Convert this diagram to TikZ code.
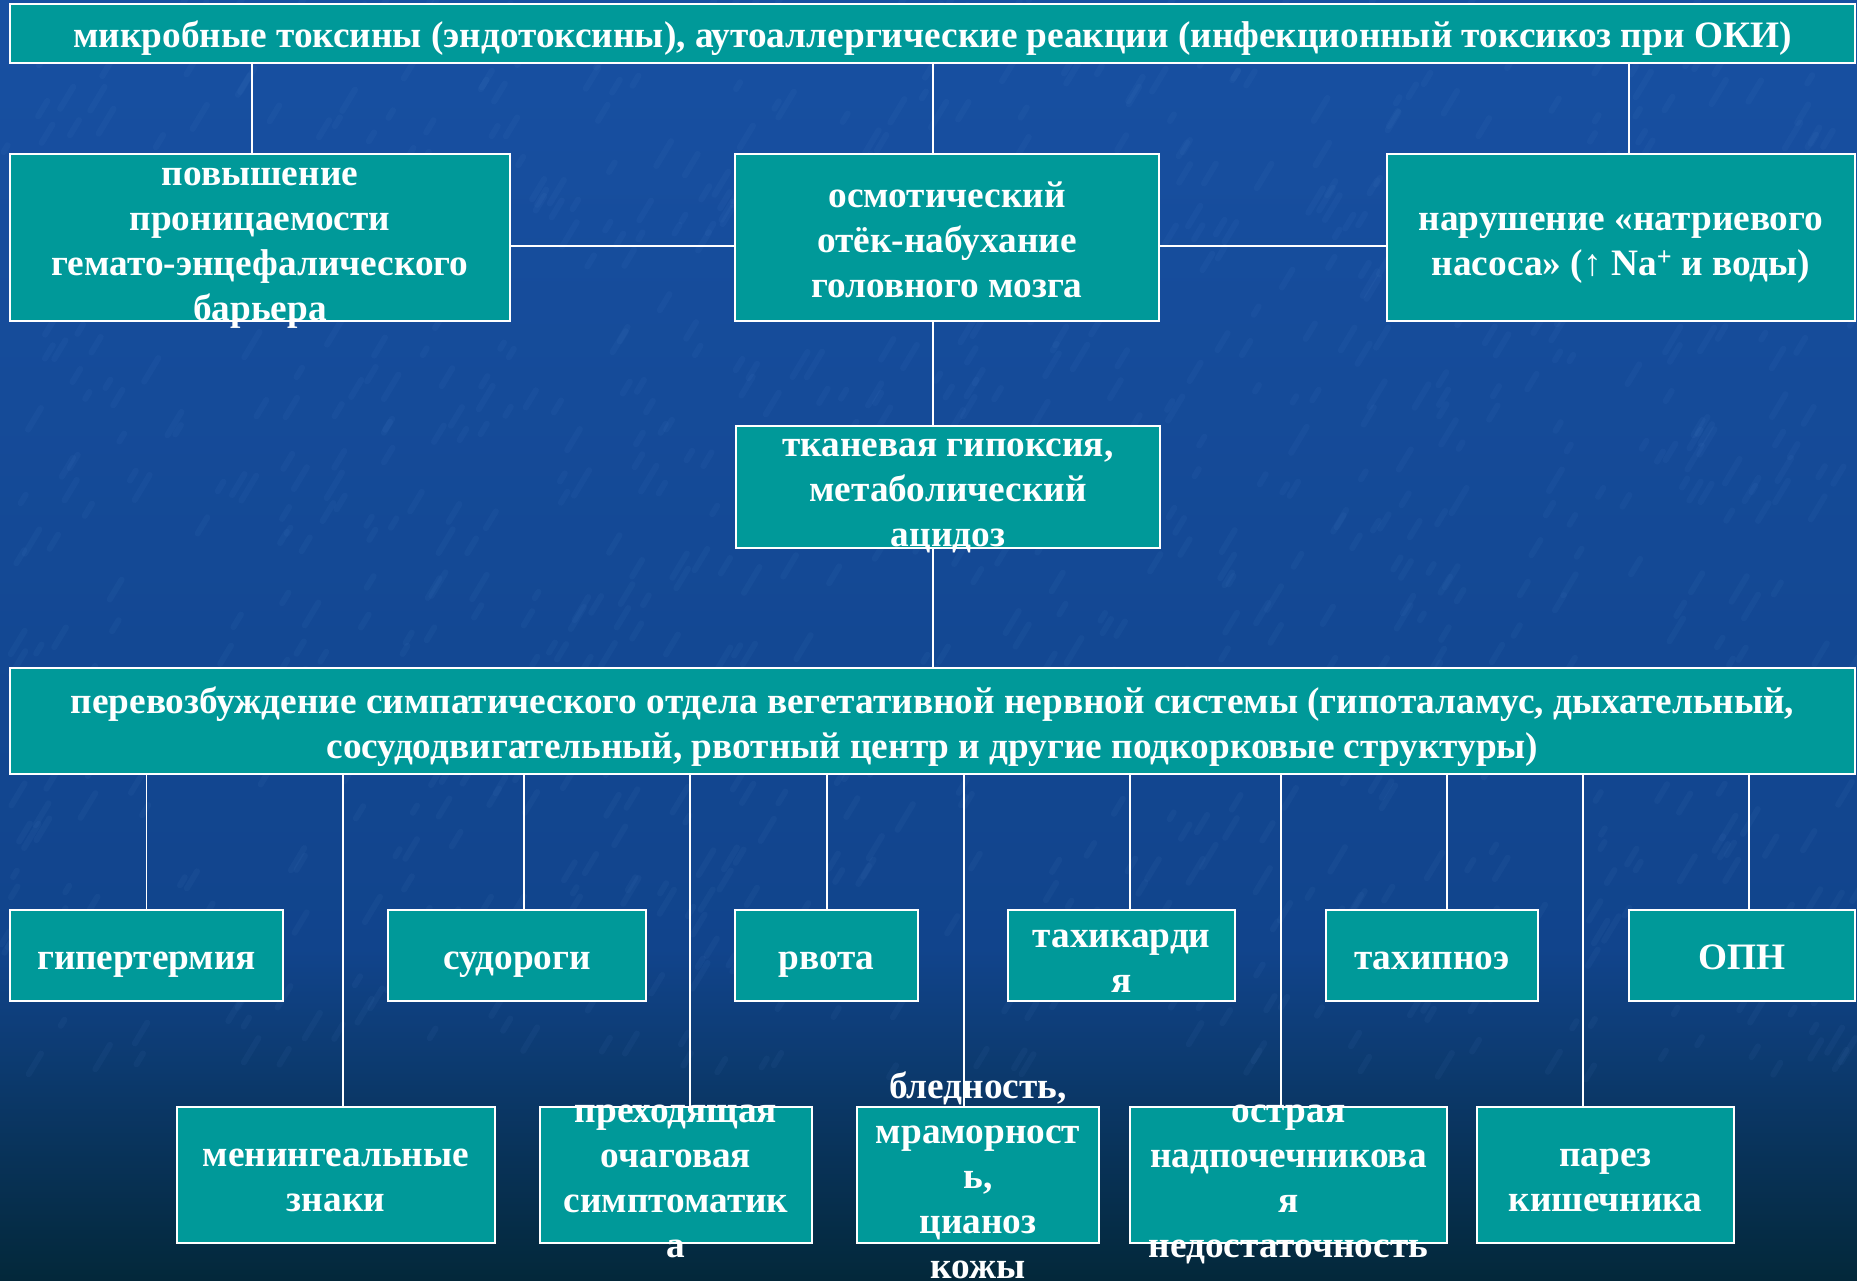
\documentclass[tikz,border=0pt]{standalone}
\usepackage{fontspec}
\setmainfont{Liberation Serif}
\definecolor{boxteal}{RGB}{0,153,153}
\definecolor{bgtop}{RGB}{24,80,162}
\definecolor{bgmid}{RGB}{17,68,140}
\definecolor{bgbot}{RGB}{3,40,58}
\definecolor{streak}{RGB}{110,165,230}
\newcommand\mkbox[5]{\node[box,minimum width={#4-#2},minimum height={#5-#3}] (#1) at (#2,#3) {};}
\newcommand\ls{\strut}
\begin{document}
\begin{tikzpicture}[x=1pt,y=-1pt,
  box/.style={draw=white,line width=2pt,fill=boxteal,inner sep=0pt,outer sep=0pt,anchor=north west},
  lbl/.style={text=white,font=\fontsize{37.3}{45}\selectfont\bfseries,align=center,inner sep=0pt},
  link/.style={draw=white,line width=1.7pt}]
% background
\useasboundingbox (0,0) rectangle (1857,1280);
\shade[top color=bgtop,bottom color=bgmid] (0,0) rectangle (1857,950);
\shade[top color=bgmid,bottom color=bgbot] (0,949) rectangle (1857,1280);
\pgfmathsetseed{11}
\foreach \i in {1,...,1100}{
  \pgfmathsetmacro\px{rnd*1857}
  \pgfmathsetmacro\py{rnd*1080}
  \pgfmathsetmacro\pl{6+rnd*20}
  \draw[streak,opacity=0.055,line width=6pt,line cap=round] (\px,\py) -- ++(0.6*\pl,-\pl);
}
% boxes
\mkbox{top}{10}{4}{1855}{63}
\mkbox{A}{10}{154}{510}{321}
\mkbox{B}{735}{154}{1159}{321}
\mkbox{C}{1387}{154}{1855}{321}
\mkbox{D}{736}{426}{1160}{548}
\mkbox{E}{10}{668}{1855}{774}
\mkbox{g1}{10}{910}{283}{1001}
\mkbox{g2}{388}{910}{646}{1001}
\mkbox{g3}{735}{910}{918}{1001}
\mkbox{g4}{1008}{910}{1235}{1001}
\mkbox{g5}{1326}{910}{1538}{1001}
\mkbox{g6}{1629}{910}{1855}{1001}
\mkbox{h1}{177}{1107}{495}{1243}
\mkbox{h2}{540}{1107}{812}{1243}
\mkbox{h3}{857}{1107}{1099}{1243}
\mkbox{h4}{1130}{1107}{1447}{1243}
\mkbox{h5}{1477}{1107}{1734}{1243}
% connector positions
\coordinate (xa) at (252,0);
\coordinate (xc) at (933,0);
\coordinate (xr) at (1629,0);
\coordinate (hy) at (0,246);
\coordinate (k1) at (146.5,0);
\coordinate (k2) at (343,0);
\coordinate (k3) at (524,0);
\coordinate (k4) at (690,0);
\coordinate (k5) at (827,0);
\coordinate (k6) at (964,0);
\coordinate (k7) at (1130,0);
\coordinate (k8) at (1281,0);
\coordinate (k9) at (1447,0);
\coordinate (k10) at (1583,0);
\coordinate (k11) at (1749,0);
% connectors
\draw[link] (top.south -| xa) -- (A.north -| xa);
\draw[link] (top.south -| xc) -- (B.north -| xc);
\draw[link] (top.south -| xr) -- (C.north -| xr);
\draw[link] (A.east |- hy) -- (B.west |- hy);
\draw[link] (B.east |- hy) -- (C.west |- hy);
\draw[link] (B.south -| xc) -- (D.north -| xc);
\draw[link] (D.south -| xc) -- (E.north -| xc);
\draw[link] (E.south -| k1) -- (g1.north -| k1);
\draw[link] (E.south -| k2) -- (h1.north -| k2);
\draw[link] (E.south -| k3) -- (g2.north -| k3);
\draw[link] (E.south -| k4) -- (h2.north -| k4);
\draw[link] (E.south -| k5) -- (g3.north -| k5);
\draw[link] (E.south -| k6) -- (h3.north -| k6);
\draw[link] (E.south -| k7) -- (g4.north -| k7);
\draw[link] (E.south -| k8) -- (h4.north -| k8);
\draw[link] (E.south -| k9) -- (g5.north -| k9);
\draw[link] (E.south -| k10) -- (h5.north -| k10);
\draw[link] (E.south -| k11) -- (g6.north -| k11);
% labels
\begin{scope}[every node/.append style={lbl}]
\node (ttop) at ([yshift=-4.5pt]top.center) {микробные токсины (эндотоксины), аутоаллергические реакции (инфекционный токсикоз при ОКИ)\ls};
\node (tA) at ([yshift=-6pt]A.center) {повышение\ls\\проницаемости\ls\\гемато-энцефалического\ls\\барьера\ls};
\node (tB) at ([yshift=-5.5pt]B.center) {осмотический\ls\\отёк-набухание\ls\\головного мозга\ls};
\node (tC) at ([yshift=-6pt]C.center) {нарушение «натриевого\ls\\насоса» (↑ Na\textsuperscript{+} и воды)\ls};
\node (tD) at ([yshift=-5.5pt]D.center) {тканевая гипоксия,\ls\\метаболический\ls\\ацидоз\ls};
\node (tE) at ([yshift=-6pt]E.center) {перевозбуждение симпатического отдела вегетативной нервной системы (гипоталамус, дыхательный,\ls\\сосудодвигательный, рвотный центр и другие подкорковые структуры)\ls};
\node (tg1) at ([yshift=-4.5pt]g1.center) {гипертермия\ls};
\node (tg2) at ([yshift=-4.5pt]g2.center) {судороги\ls};
\node (tg3) at ([yshift=-4.5pt]g3.center) {рвота\ls};
\node (tg4) at ([yshift=-5.5pt]g4.center) {тахикарди\ls\\я\ls};
\node (tg5) at ([yshift=-4.5pt]g5.center) {тахипноэ\ls};
\node (tg6) at ([yshift=-4.5pt]g6.center) {ОПН\ls};
\node (th1) at ([yshift=-5pt]h1.center) {менингеальные\ls\\знаки\ls};
\node (th2) at ([yshift=-5.5pt]h2.center) {преходящая\ls\\очаговая\ls\\симптоматик\ls\\а\ls};
\node (th3) at ([yshift=-4pt]h3.center) {бледность,\ls\\мраморност\ls\\ь,\ls\\цианоз\ls\\кожы\ls};
\node (th4) at ([yshift=-5.5pt]h4.center) {острая\ls\\надпочечникова\ls\\я\ls\\недостаточность\ls};
\node (th5) at ([yshift=-5pt]h5.center) {парез\ls\\кишечника\ls};
\end{scope}
\end{tikzpicture}
\end{document}
